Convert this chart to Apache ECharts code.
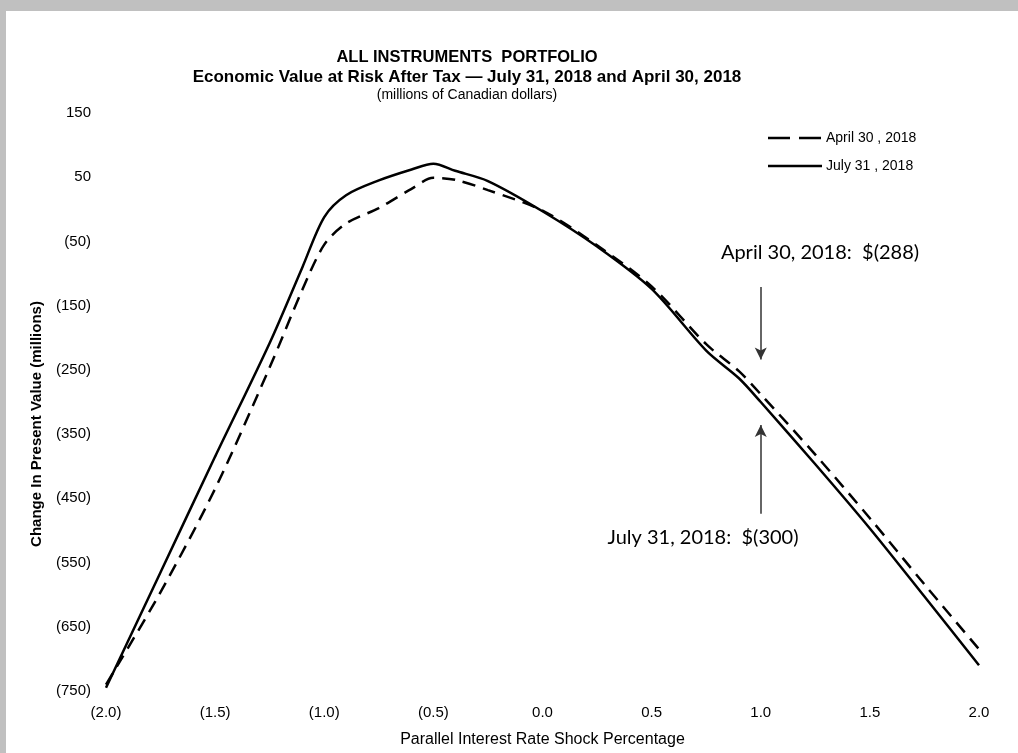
<!DOCTYPE html>
<html>
<head>
<meta charset="utf-8">
<script src="https://cdn.jsdelivr.net/npm/echarts@6/dist/echarts.min.js"></script>
<style>
html,body{margin:0;padding:0;background:#c0c0c0;}
#chart{width:1018px;height:753px;}
</style>
</head>
<body>
<div id="chart"></div>
<script>
// ---- data ----
var shocks = [-2.0, -1.75, -1.5, -1.25, -1.1, -1.0, -0.9, -0.75, -0.6, -0.5, -0.4, -0.25, 0.0, 0.25, 0.5, 0.75, 0.9, 1.0, 1.25, 1.5, 1.75, 2.0];
var april2018 = [-740, -596, -435, -246, -125, -55, -22, 2, 32, 49, 46, 30, -2, -56, -120, -210, -252, -288, -382, -481, -584, -685];
var july2018  = [-745, -565, -385, -208, -90, -12, 22, 45, 62, 71, 60, 44, -3, -58, -124, -220, -263, -300, -397, -497, -603, -710];
var yTicks = [150, 50, -50, -150, -250, -350, -450, -550, -650, -750];
var xTicks = [-2.0, -1.5, -1.0, -0.5, 0.0, 0.5, 1.0, 1.5, 2.0];
var seriesNames = ['April 30, 2018', 'July 31, 2018'];
var legendLabels = ['April 30 , 2018', 'July 31 , 2018'];
var titleLines = ['ALL INSTRUMENTS  PORTFOLIO', 'Economic Value at Risk After Tax \u2014 July 31, 2018 and April 30, 2018', '(millions of Canadian dollars)'];
var annoApril = 'April 30, 2018:  $(288)';
var annoJuly = 'July 31, 2018:  $(300)';

function pairs(xs, ys){ return xs.map(function(x,i){ return [x, ys[i]]; }); }
function fmtY(v){ return v < 0 ? '(' + Math.abs(v) + ')' : String(v); }
function fmtX(v){ return v < 0 ? '(' + Math.abs(v).toFixed(1) + ')' : v.toFixed(1); }

var sans = '"Liberation Sans", Arial, sans-serif';
var chart = echarts.init(document.getElementById('chart'), null, {renderer:'canvas'});
chart.setOption({
  backgroundColor: '#c0c0c0',
  animation: false,
  graphic: [
    {type:'rect', shape:{x:6, y:11, width:1012, height:742}, style:{fill:'#ffffff'}, z:-10, silent:true},
    {type:'text', x:467, y:57, style:{text:titleLines[0], font:'bold 16.5px ' + sans, fill:'#000', textAlign:'center', textVerticalAlign:'middle'}},
    {type:'text', x:467, y:77, style:{text:titleLines[1], font:'bold 17px ' + sans, fill:'#000', textAlign:'center', textVerticalAlign:'middle'}},
    {type:'text', x:467, y:95, style:{text:titleLines[2], font:'14px ' + sans, fill:'#000', textAlign:'center', textVerticalAlign:'middle'}},
    {type:'text', x:37, y:424, rotation:Math.PI/2, style:{text:'Change In Present Value (millions)', font:'bold 15px ' + sans, fill:'#000', textAlign:'center', textVerticalAlign:'middle'}},
    {type:'text', x:820, y:253, style:{text:annoApril, font:'20px Lato, "Open Sans", sans-serif', fill:'#000', textAlign:'center', textVerticalAlign:'middle'}},
    {type:'text', x:703, y:538, style:{text:annoJuly, font:'20px Lato, "Open Sans", sans-serif', fill:'#000', textAlign:'center', textVerticalAlign:'middle'}},
    // legend keys
    {type:'line', shape:{x1:768, y1:138, x2:822, y2:138}, style:{stroke:'#000', lineWidth:2.5, lineDash:[22,9]}},
    {type:'text', x:826, y:138, style:{text:legendLabels[0], font:'14px ' + sans, fill:'#000', textAlign:'left', textVerticalAlign:'middle'}},
    {type:'line', shape:{x1:768, y1:166, x2:822, y2:166}, style:{stroke:'#000', lineWidth:2.5}},
    {type:'text', x:826, y:166, style:{text:legendLabels[1], font:'14px ' + sans, fill:'#000', textAlign:'left', textVerticalAlign:'middle'}}
  ],
  grid: {left:106, right:39, top:113, bottom:59},
  xAxis: {
    type:'value', min:-2, max:2, interval:0.5,
    axisLine:{show:false}, axisTick:{show:false}, splitLine:{show:false},
    axisLabel:{formatter:fmtX, fontFamily:sans, fontSize:15, color:'#000', margin:14,
      customValues: xTicks},
    name:'Parallel Interest Rate Shock Percentage', nameLocation:'middle', nameGap:41,
    nameTextStyle:{fontFamily:sans, fontSize:16, color:'#000'}
  },
  yAxis: {
    type:'value', min:-750, max:150, interval:100,
    axisLine:{show:false}, axisTick:{show:false}, splitLine:{show:false},
    axisLabel:{formatter:fmtY, fontFamily:sans, fontSize:15, color:'#000', margin:15,
      customValues: yTicks}
  },
  series: [
    {
      name: seriesNames[0], type:'line', data: pairs(shocks, april2018),
      smooth: 0.3, symbol:'none',
      lineStyle:{color:'#000', width:2.5, type:[13,8]}, itemStyle:{color:'#000'},
      markLine: {
        silent:true, symbol:['none','arrow'], symbolSize:[9,12], label:{show:false},
        lineStyle:{color:'#333', width:1.5, type:'solid'},
        data: [
          [{coord:[1.0, -121]}, {coord:[1.0, -234]}],
          [{coord:[1.0, -474]}, {coord:[1.0, -336]}]
        ]
      }
    },
    {
      name: seriesNames[1], type:'line', data: pairs(shocks, july2018),
      smooth: 0.3, symbol:'none',
      lineStyle:{color:'#000', width:2.5, type:'solid'}, itemStyle:{color:'#000'}
    }
  ]
});
</script>
</body>
</html>
